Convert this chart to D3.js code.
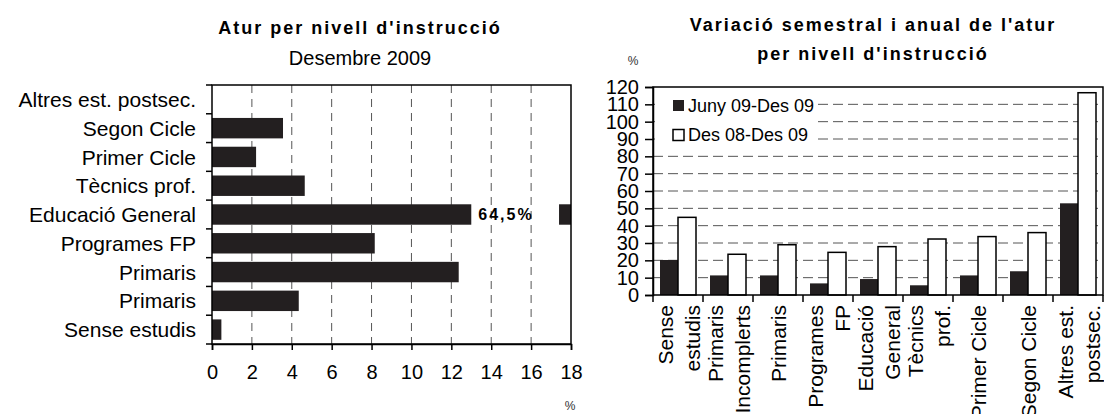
<!DOCTYPE html>
<html>
<head>
<meta charset="utf-8">
<script src="https://cdn.jsdelivr.net/npm/d3@7"></script>
<style>
  body { margin: 0; background: #fff; }
  svg { display: block; font-family: "Liberation Sans", Arial, sans-serif; }
</style>
</head>
<body>
<svg id="chart" width="1104" height="414"></svg>
<script>
// left chart: share of unemployment, Dec 2009 (top to bottom)
var shareLabels = ["Altres est. postsec.", "Segon Cicle", "Primer Cicle", "Tècnics prof.",
                   "Educació General", "Programes FP", "Primaris", "Primaris", "Sense estudis"];
var shareValues = [0, 3.56, 2.21, 4.65, 64.5, 8.16, 12.37, 4.35, 0.47];
var shareTicks = [0, 2, 4, 6, 8, 10, 12, 14, 16, 18];

// right chart: variation (left to right)
var varLabels = [["Sense", "estudis"], ["Primaris", "Incomplerts"], ["Primaris"], ["Programes", "FP"],
                 ["Educació", "General"], ["Tècnics", "prof."], ["Primer Cicle"], ["Segon Cicle"],
                 ["Altres est.", "postsec."]];
var semestral = [20.2, 11.3, 11.3, 6.7, 9.2, 5.6, 11.3, 13.7, 52.9];
var anual = [44.8, 23.5, 29.0, 24.6, 27.9, 32.3, 33.7, 36.0, 116.7];
var seriesNames = ["Juny 09-Des 09", "Des 08-Des 09"];
var varTicks = d3.range(0, 121, 10);

var dark = "#231f20";
var gridColor = "#555";
var svg = d3.select("#chart");

// ---------- left chart ----------
var x = d3.scaleLinear().domain([0, 18]).range([212, 571]);
var y = d3.scaleBand().domain(d3.range(shareLabels.length)).range([85, 344])
    .paddingInner(0.29).paddingOuter(0.145);
var breakFrom = 13.0, breakTo = 17.4;   // axis break for the long bar

var left = svg.append("g");

left.append("text").attr("x", 360).attr("y", 34).attr("text-anchor", "middle")
    .style("font-size", "18px").style("font-weight", "bold").style("letter-spacing", "2px")
    .text("Atur per nivell d'instrucció");
left.append("text").attr("x", 360).attr("y", 65).attr("text-anchor", "middle")
    .style("font-size", "20px")
    .text("Desembre 2009");

left.append("g").selectAll("line")
    .data(shareTicks.slice(1, -1))
    .enter().append("line")
    .attr("x1", d => x(d)).attr("x2", d => x(d))
    .attr("y1", 85).attr("y2", 344)
    .attr("stroke", gridColor).attr("stroke-dasharray", "8,6");

var bars = left.append("g").selectAll("g")
    .data(shareValues)
    .enter().append("g");

bars.append("rect")
    .attr("x", x(0))
    .attr("y", (d, i) => y(i))
    .attr("height", y.bandwidth())
    .attr("width", d => (d > 18 ? x(breakFrom) : x(d)) - x(0))
    .attr("fill", dark);

bars.filter(d => d > 18).append("rect")
    .attr("x", x(breakTo))
    .attr("y", d => y(shareValues.indexOf(d)))
    .attr("height", y.bandwidth())
    .attr("width", x(18) - x(breakTo))
    .attr("fill", dark);

bars.filter(d => d > 18).append("text")
    .attr("x", x(breakFrom) + 7)
    .attr("y", d => y(shareValues.indexOf(d)) + y.bandwidth() / 2)
    .attr("dy", "0.36em")
    .style("font-size", "16px").style("font-weight", "bold").style("letter-spacing", "2px")
    .text(d => String(d).replace(".", ",") + "%");

left.append("rect")
    .attr("x", 212).attr("y", 85).attr("width", 571 - 212).attr("height", 344 - 85)
    .attr("fill", "none").attr("stroke", "#000").attr("stroke-width", 1.5);

// category boundary ticks
left.append("g").selectAll("line")
    .data(d3.range(shareLabels.length + 1))
    .enter().append("line")
    .attr("x1", 206).attr("x2", 212)
    .attr("y1", i => 85 + i * y.step()).attr("y2", i => 85 + i * y.step())
    .attr("stroke", "#000").attr("stroke-width", 1.5);

left.append("g").selectAll("text")
    .data(shareLabels)
    .enter().append("text")
    .attr("x", 196)
    .attr("y", (d, i) => y(i) + y.bandwidth() / 2)
    .attr("dy", "0.36em")
    .attr("text-anchor", "end")
    .style("font-size", "21px")
    .text(d => d);

var xAxis = left.append("g")
    .attr("transform", "translate(0,344)")
    .call(d3.axisBottom(x).tickValues(shareTicks).tickSize(6).tickPadding(15));
xAxis.select(".domain").attr("stroke-width", 1.5);
xAxis.selectAll(".tick line").attr("stroke-width", 1.5);
xAxis.selectAll(".tick text").style("font-size", "20px").style("font-family", "Liberation Sans, Arial");

left.append("text").attr("x", 570).attr("y", 410).attr("text-anchor", "middle")
    .style("font-size", "12px").attr("fill", "#333").text("%");

// ---------- right chart ----------
var x0 = d3.scaleBand().domain(d3.range(varLabels.length)).range([653, 1103]);
var x1 = d3.scaleBand().domain([0, 1]).range([7, 43]);
var yv = d3.scaleLinear().domain([0, 120]).range([295, 87]);

var right = svg.append("g");

right.append("text").attr("x", 873).attr("y", 31).attr("text-anchor", "middle")
    .style("font-size", "18px").style("font-weight", "bold").style("letter-spacing", "2px")
    .text("Variació semestral i anual de l'atur");
right.append("text").attr("x", 873).attr("y", 60).attr("text-anchor", "middle")
    .style("font-size", "18px").style("font-weight", "bold").style("letter-spacing", "2px")
    .text("per nivell d'instrucció");
right.append("text").attr("x", 633).attr("y", 65).attr("text-anchor", "middle")
    .style("font-size", "12px").attr("fill", "#333").text("%");

right.append("g").selectAll("line")
    .data(varTicks.slice(1, -1))
    .enter().append("line")
    .attr("x1", 653).attr("x2", 1103)
    .attr("y1", d => yv(d)).attr("y2", d => yv(d))
    .attr("stroke", gridColor).attr("stroke-dasharray", "10,5");

// legend box hides the grid behind it
right.append("rect").attr("x", 655).attr("y", 92).attr("width", 163).attr("height", 56)
    .attr("fill", "#fff");

var groups = right.append("g").selectAll("g")
    .data(varLabels.map((d, i) => [semestral[i], anual[i]]))
    .enter().append("g")
    .attr("transform", (d, i) => "translate(" + x0(i) + ",0)");

groups.selectAll("rect")
    .data(d => d)
    .enter().append("rect")
    .attr("x", (d, j) => x1(j))
    .attr("width", x1.bandwidth())
    .attr("y", d => yv(d))
    .attr("height", d => yv(0) - yv(d))
    .attr("fill", (d, j) => j === 0 ? dark : "#fff")
    .attr("stroke", "#000")
    .attr("stroke-width", (d, j) => j === 0 ? 0 : 1.5);

right.append("rect")
    .attr("x", 653).attr("y", 87).attr("width", 1103 - 653).attr("height", 295 - 87)
    .attr("fill", "none").attr("stroke", "#000").attr("stroke-width", 1.5);

var yAxis = right.append("g")
    .attr("transform", "translate(653,0)")
    .call(d3.axisLeft(yv).tickValues(varTicks).tickSize(8).tickPadding(6));
yAxis.select(".domain").attr("stroke-width", 1.5);
yAxis.selectAll(".tick line").attr("stroke-width", 1.5);
yAxis.selectAll(".tick text").style("font-size", "20px").style("font-family", "Liberation Sans, Arial");

// category boundary ticks under the axis
right.append("g").selectAll("line")
    .data(d3.range(varLabels.length + 1))
    .enter().append("line")
    .attr("x1", i => 653 + i * x0.step()).attr("x2", i => 653 + i * x0.step())
    .attr("y1", 295).attr("y2", 302)
    .attr("stroke", "#000").attr("stroke-width", 1.5);

var labelGroups = right.append("g").selectAll("g")
    .data(varLabels)
    .enter().append("g");

labelGroups.selectAll("text")
    .data(d => d.map((t, k) => ({t: t, k: k, n: d.length})))
    .enter().append("text")
    .attr("transform", function(d) {
        var i = varLabels.indexOf(d3.select(this.parentNode).datum());
        var cx = x0(i) + x0.bandwidth() / 2 + (d.n === 1 ? 0 : (d.k === 0 ? -13 : 14));
        return "translate(" + cx + ",305) rotate(-90)";
    })
    .attr("dy", "0.36em")
    .attr("text-anchor", "end")
    .style("font-size", "21px")
    .text(d => d.t);

var legend = right.append("g").selectAll("g")
    .data(seriesNames)
    .enter().append("g")
    .attr("transform", (d, i) => "translate(673," + (100 + i * 29.5) + ")");
legend.append("rect").attr("width", 11).attr("height", 11)
    .attr("fill", (d, i) => i === 0 ? dark : "#fff")
    .attr("stroke", "#000").attr("stroke-width", (d, i) => i === 0 ? 0 : 1.5);
legend.append("text").attr("x", 15).attr("y", 5.5).attr("dy", "0.36em")
    .style("font-size", "18px").text(d => d);
</script>
</body>
</html>
